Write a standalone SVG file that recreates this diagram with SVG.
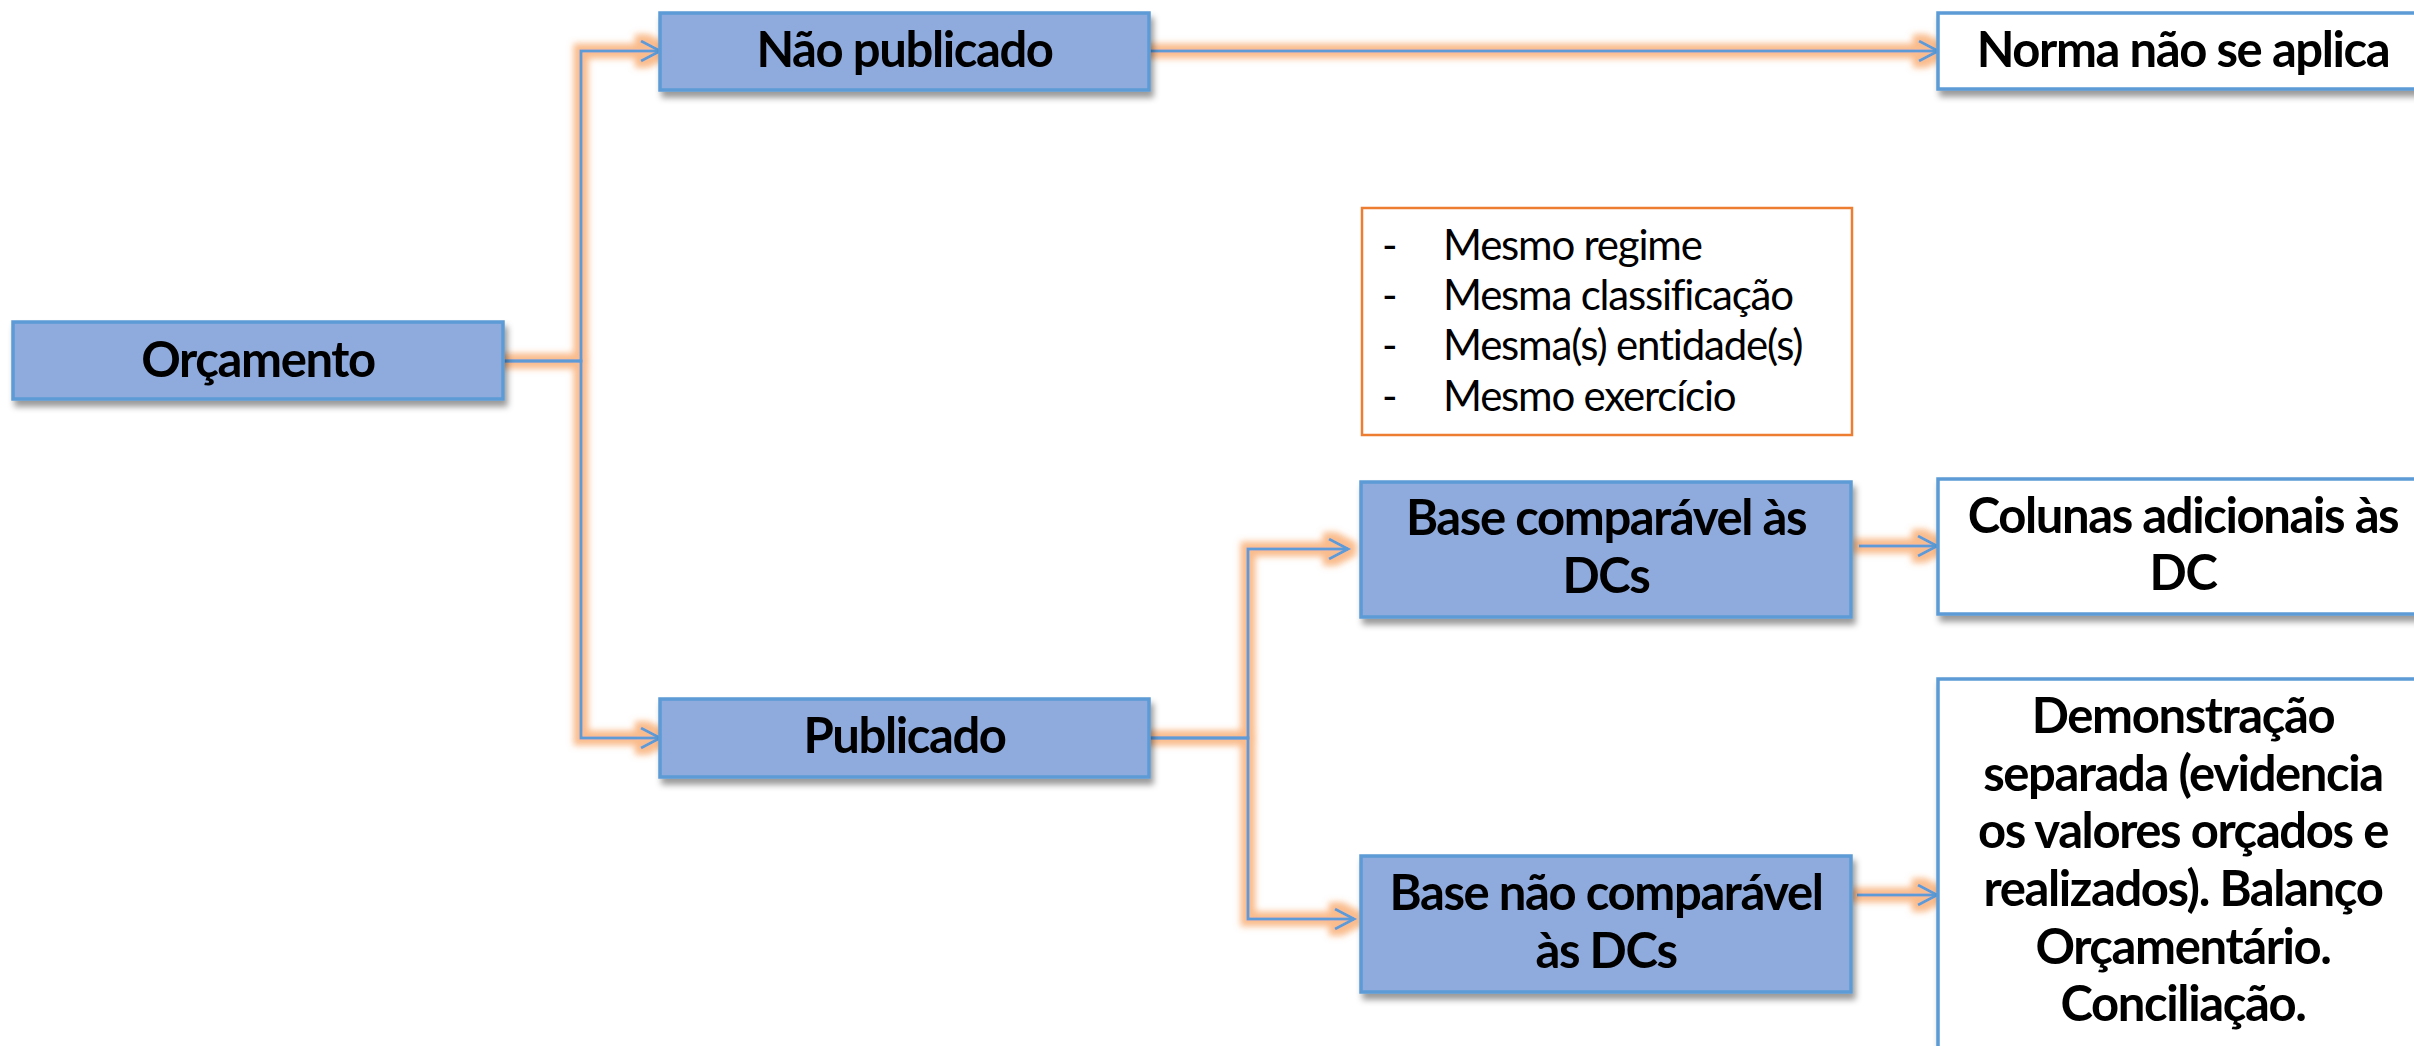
<svg xmlns="http://www.w3.org/2000/svg" width="2414" height="1046" viewBox="0 0 2414 1046">
<defs>
<style>
.box{fill:#8FAADC;stroke:#5B9BD5;stroke-width:3.5}
.wbox{fill:#FFFFFF;stroke:#5B9BD5;stroke-width:3.5}
.lbl{font-family:Lato,"Open Sans","Liberation Sans",sans-serif;font-weight:bold;font-size:49px;letter-spacing:-1.4px;fill:#000;text-anchor:middle}
.lst{font-family:Lato,"Open Sans","Liberation Sans",sans-serif;font-size:42px;letter-spacing:-1.2px;fill:#000}
.con{fill:none;stroke:#5B9BD5;stroke-width:3}
</style>
<marker id="arr" markerUnits="userSpaceOnUse" markerWidth="30" markerHeight="30" refX="22" refY="12" orient="auto" viewBox="0 0 30 30">
<path d="M3,2 L22,12 L3,22" fill="none" stroke="#5B9BD5" stroke-width="3"/>
</marker>
<filter id="glow" filterUnits="userSpaceOnUse" x="0" y="0" width="2414" height="1046">
<feMorphology in="SourceAlpha" operator="dilate" radius="6" result="d"/>
<feGaussianBlur in="d" stdDeviation="3" result="b"/>
<feFlood flood-color="#F9B886" flood-opacity="0.95"/>
<feComposite in2="b" operator="in" result="g"/>
<feMerge><feMergeNode in="g"/><feMergeNode in="SourceGraphic"/></feMerge>
</filter>
<filter id="shadow" x="-5%" y="-10%" width="115%" height="130%">
<feDropShadow dx="3" dy="6" stdDeviation="3" flood-color="#000" flood-opacity="0.4"/>
</filter>
</defs>
<rect width="2414" height="1046" fill="#FFFFFF"/>
<g id="connectors" filter="url(#glow)">
<path class="con" d="M503,361 H581 V51 H660" marker-end="url(#arr)"/>
<path class="con" d="M503,361 H581 V738 H660" marker-end="url(#arr)"/>
<path class="con" d="M1150,51 H1938" marker-end="url(#arr)"/>
<path class="con" d="M1149,738 H1248 V549 H1348" marker-end="url(#arr)"/>
<path class="con" d="M1149,738 H1248 V919 H1354" marker-end="url(#arr)"/>
<path class="con" d="M1859,546 H1937" marker-end="url(#arr)"/>
<path class="con" d="M1857,895 H1937" marker-end="url(#arr)"/>
</g>
<g id="orcamento" filter="url(#shadow)">
<rect class="box" x="13" y="322" width="490" height="77"/>
<text class="lbl" x="258" y="377">Orçamento</text>
</g>
<g id="nao-publicado" filter="url(#shadow)">
<rect class="box" x="660" y="13" width="489" height="77"/>
<text class="lbl" x="904.5" y="67">Não publicado</text>
</g>
<g id="publicado" filter="url(#shadow)">
<rect class="box" x="660" y="699" width="489" height="78"/>
<text class="lbl" x="904.5" y="753">Publicado</text>
</g>
<g id="base-comparavel" filter="url(#shadow)">
<rect class="box" x="1361" y="482" width="490" height="135"/>
<text class="lbl" x="1606" y="535">Base comparável às</text>
<text class="lbl" x="1606" y="593">DCs</text>
</g>
<g id="base-nao-comparavel" filter="url(#shadow)">
<rect class="box" x="1361" y="856" width="490" height="136"/>
<text class="lbl" x="1606" y="910">Base não comparável</text>
<text class="lbl" x="1606" y="968">às DCs</text>
</g>
<g id="norma" filter="url(#shadow)">
<rect class="wbox" x="1938" y="13" width="490" height="76"/>
<text class="lbl" x="2183" y="67">Norma não se aplica</text>
</g>
<g id="colunas" filter="url(#shadow)">
<rect class="wbox" x="1938" y="479" width="490" height="135"/>
<text class="lbl" x="2183" y="533">Colunas adicionais às</text>
<text class="lbl" x="2183" y="590">DC</text>
</g>
<g id="demonstracao" filter="url(#shadow)">
<rect class="wbox" x="1938" y="679" width="490" height="420"/>
<text class="lbl" x="2183" y="733">Demonstração</text>
<text class="lbl" x="2183" y="790.5">separada (evidencia</text>
<text class="lbl" x="2183" y="848">os valores orçados e</text>
<text class="lbl" x="2183" y="906">realizados). Balanço</text>
<text class="lbl" x="2183" y="963.5">Orçamentário.</text>
<text class="lbl" x="2183" y="1021">Conciliação.</text>
</g>
<g id="criterios">
<rect x="1362" y="208" width="490" height="227" fill="#FFFFFF" stroke="#ED7D31" stroke-width="2.5"/>
<text class="lst" x="1382" y="260">-</text><text class="lst" x="1443" y="260">Mesmo regime</text>
<text class="lst" x="1382" y="310">-</text><text class="lst" x="1443" y="310">Mesma classificação</text>
<text class="lst" x="1382" y="360">-</text><text class="lst" x="1443" y="360">Mesma(s) entidade(s)</text>
<text class="lst" x="1382" y="411">-</text><text class="lst" x="1443" y="411">Mesmo exercício</text>
</g>
</svg>
